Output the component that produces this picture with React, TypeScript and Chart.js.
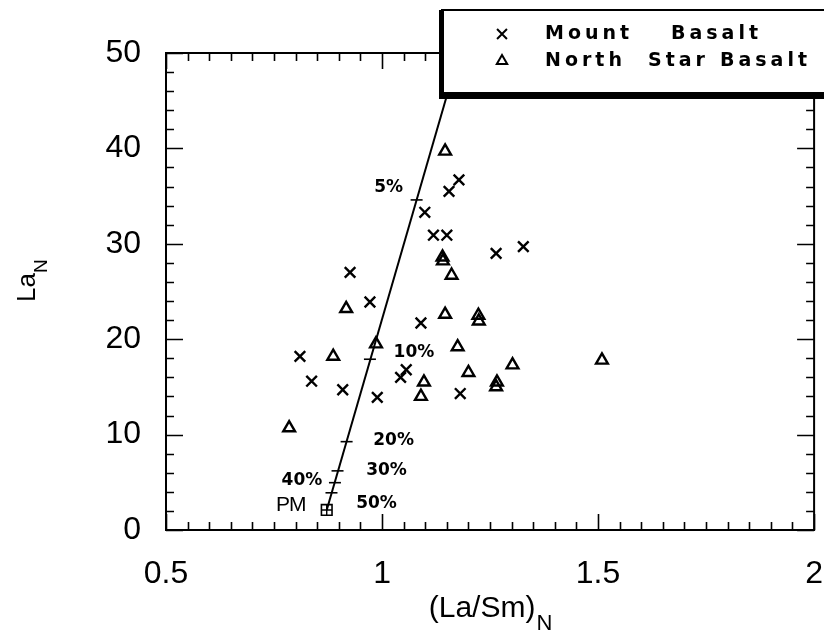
import { useEffect, useRef } from "react";
import { Chart, registerables } from "chart.js";
import { drawPoint } from "chart.js/helpers";

Chart.register(...registerables);

// Mount Basalt samples: (La/Sm)N and LaN
const mountX = [1.178, 1.155, 1.099, 1.119, 1.150, 1.264, 1.327, 0.926, 0.972, 1.090, 0.810, 0.837, 0.909, 0.989, 1.056, 1.043, 1.181];
const mountY = [36.7, 35.5, 33.3, 30.9, 30.9, 29.0, 29.7, 27.0, 23.9, 21.7, 18.2, 15.6, 14.7, 13.9, 16.8, 16.0, 14.3];

// North Star Basalt samples
const northX = [1.146, 1.140, 1.141, 1.161, 0.917, 1.146, 1.223, 1.224, 1.175, 0.986, 0.887, 1.097, 1.090, 1.200, 1.302, 1.266, 1.264, 1.509, 0.785];
const northY = [39.7, 28.6, 28.2, 26.7, 23.2, 22.6, 22.5, 21.9, 19.2, 19.5, 18.2, 15.5, 14.0, 16.5, 17.3, 15.5, 15.0, 17.8, 10.7];

// Primitive mantle composition
const pmLabel = "PM";
const pmX = [0.872];
const pmY = [2.1];

// Partial melting curve from PM, with degree-of-melting marks
const meltCurveX = [0.872, 1.155];
const meltCurveY = [2.1, 46.3];
const meltLabels = ["5%", "10%", "20%", "30%", "40%", "50%"];
const meltX = [1.080, 0.972, 0.918, 0.897, 0.891, 0.883];
const meltY = [34.6, 17.9, 9.26, 6.2, 4.96, 3.9];

// Axes
const xTickValues = [0.5, 1, 1.5, 2];
const xTickLabels = ["0.5", "1", "1.5", "2"];
const yTickValues = [0, 10, 20, 30, 40, 50];
const yTickLabels = ["0", "10", "20", "30", "40", "50"];

const legendEntries = [
  { style: "crossRot", words: ["Mount", "Basalt"] },
  { style: "triangle", words: ["North", "Star", "Basalt"] },
];

const toPoints = (xs: number[], ys: number[]) => xs.map((x, i) => ({ x, y: ys[i] }));

const xMarker = { pointStyle: "crossRot", radius: 7.5, borderWidth: 2.4, rotation: 0 };
const triMarker = { pointStyle: "triangle", radius: 6.8, borderWidth: 2.4, rotation: 0 };

const decorations = {
  id: "decorations",
  afterDatasetsDraw(chart: any) {
    const { ctx, chartArea: a, scales } = chart;
    const xs = scales.x;
    const ys = scales.y;
    ctx.save();
    ctx.strokeStyle = "#000";
    ctx.fillStyle = "#000";

    // frame
    ctx.lineWidth = 2;
    ctx.strokeRect(a.left, a.top, a.right - a.left, a.bottom - a.top);

    // inward ticks on all four sides
    ctx.lineWidth = 1.6;
    ctx.beginPath();
    for (let i = 0; i <= 30; i++) {
      const v = 0.5 + i * 0.05;
      const px = Math.round(xs.getPixelForValue(v)) + 0.5;
      const len = i % 10 === 0 ? 16 : 8;
      ctx.moveTo(px, a.bottom);
      ctx.lineTo(px, a.bottom - len);
      ctx.moveTo(px, a.top);
      ctx.lineTo(px, a.top + len);
    }
    for (let i = 0; i <= 25; i++) {
      const v = i * 2;
      const py = Math.round(ys.getPixelForValue(v)) + 0.5;
      const len = i % 5 === 0 ? 17 : 8;
      ctx.moveTo(a.left, py);
      ctx.lineTo(a.left + len, py);
      ctx.moveTo(a.right, py);
      ctx.lineTo(a.right - len, py);
    }
    ctx.stroke();

    // melting-degree labels
    const offsets = [[-28, -12], [44, -7], [47, -1], [49, 0], [-33, -2], [45, 11]];
    ctx.font = "bold 17px 'DejaVu Sans'";
    ctx.textAlign = "center";
    ctx.textBaseline = "middle";
    meltLabels.forEach((t, i) => {
      const px = xs.getPixelForValue(meltX[i]);
      const py = ys.getPixelForValue(meltY[i]);
      ctx.fillText(t, px + offsets[i][0], py + offsets[i][1]);
    });

    // PM label
    ctx.font = "21px 'Liberation Sans'";
    (ctx as any).letterSpacing = "-1px";
    ctx.fillText(pmLabel, xs.getPixelForValue(pmX[0]) - 36, ys.getPixelForValue(pmY[0]) - 5);
    (ctx as any).letterSpacing = "0px";

    // y-axis title La with subscript N
    ctx.save();
    ctx.translate(35, 302);
    ctx.rotate(-Math.PI / 2);
    ctx.textAlign = "left";
    ctx.textBaseline = "alphabetic";
    ctx.font = "26px 'Liberation Sans'";
    ctx.fillText("La", 0, 0);
    const wLa = ctx.measureText("La").width;
    ctx.font = "19px 'Liberation Sans'";
    ctx.fillText("N", wLa, 12);
    ctx.restore();

    // x-axis title (La/Sm) with subscript N
    ctx.textAlign = "left";
    ctx.textBaseline = "alphabetic";
    ctx.font = "30px 'Liberation Sans'";
    const main = "(La/Sm)";
    const wMain = ctx.measureText(main).width;
    ctx.font = "22px 'Liberation Sans'";
    const wN = ctx.measureText("N").width;
    const cx = (a.left + a.right) / 2;
    const x0 = cx - (wMain + wN) / 2;
    ctx.font = "30px 'Liberation Sans'";
    ctx.fillText(main, x0, 617);
    ctx.font = "22px 'Liberation Sans'";
    ctx.fillText("N", x0 + wMain + 1, 630);
    ctx.restore();
  },
  afterDraw(chart: any) {
    const { ctx } = chart;
    ctx.save();
    // legend box with heavy left/bottom shadow
    ctx.fillStyle = "#fff";
    ctx.fillRect(441, 10, 400, 86);
    ctx.strokeStyle = "#000";
    ctx.lineWidth = 2;
    ctx.strokeRect(442, 10, 400, 84);
    ctx.fillStyle = "#000";
    ctx.fillRect(439, 10, 5, 89);
    ctx.fillRect(439, 92, 400, 7);

    const rowY = [34, 61];
    const wordX = [[545, 671], [545, 648, 720]];
    legendEntries.forEach((e, r) => {
      ctx.strokeStyle = "#000";
      ctx.fillStyle = "rgba(0,0,0,0)";
      const m = e.style === "crossRot" ? { ...xMarker, radius: 7 } : { ...triMarker, radius: 6 };
      drawPoint(ctx, m as any, 502, rowY[r]);
      ctx.fillStyle = "#000";
      ctx.font = "bold 19px 'DejaVu Sans'";
      (ctx as any).letterSpacing = "4px";
      ctx.textAlign = "left";
      ctx.textBaseline = "middle";
      e.words.forEach((w, k) => ctx.fillText(w, wordX[r][k], rowY[r]));
      (ctx as any).letterSpacing = "0px";
    });
    ctx.restore();
  },
};

export default function App() {
  const ref = useRef<HTMLCanvasElement>(null);
  useEffect(() => {
    const chart = new Chart(ref.current!, {
      type: "scatter",
      data: {
        datasets: [
          {
            label: "melting curve",
            data: toPoints(meltCurveX, meltCurveY),
            showLine: true,
            borderColor: "#000",
            borderWidth: 2,
            pointRadius: 0,
          },
          {
            label: "melting marks",
            data: toPoints(meltX, meltY),
            pointStyle: "line",
            pointRadius: 6,
            borderColor: "#000",
            pointBorderWidth: 1.6,
          },
          {
            label: "PM box",
            data: toPoints(pmX, pmY),
            pointStyle: "rect",
            pointRadius: 7.5,
            borderColor: "#000",
            backgroundColor: "rgba(0,0,0,0)",
            pointBorderWidth: 1.6,
          },
          {
            label: "PM cross",
            data: toPoints(pmX, pmY),
            pointStyle: "cross",
            pointRadius: 5.3,
            borderColor: "#000",
            pointBorderWidth: 1.4,
          },
          {
            label: "Mount Basalt",
            data: toPoints(mountX, mountY),
            pointStyle: "crossRot",
            pointRadius: xMarker.radius,
            pointBorderWidth: xMarker.borderWidth,
            borderColor: "#000",
            backgroundColor: "rgba(0,0,0,0)",
          },
          {
            label: "North Star Basalt",
            data: toPoints(northX, northY),
            pointStyle: "triangle",
            pointRadius: triMarker.radius,
            pointBorderWidth: triMarker.borderWidth,
            borderColor: "#000",
            backgroundColor: "rgba(0,0,0,0)",
          },
        ],
      },
      options: {
        responsive: false,
        animation: false,
        events: [],
        layout: { padding: { top: 53, right: 9, left: 0, bottom: 0 } },
        plugins: { legend: { display: false }, tooltip: { enabled: false } },
        scales: {
          x: {
            type: "linear",
            min: 0.5,
            max: 2,
            grid: { display: false, drawTicks: false },
            border: { display: false },
            afterBuildTicks: (s: any) => {
              s.ticks = xTickValues.map((v) => ({ value: v }));
            },
            afterFit: (s: any) => {
              s.height = 103;
              s.paddingLeft = 0;
              s.paddingRight = 9;
            },
            ticks: {
              color: "#000",
              font: { family: "'Liberation Sans'", size: 32 },
              padding: 25,
              maxRotation: 0,
              autoSkip: false,
              callback: (v: any) => xTickLabels[xTickValues.indexOf(Number(v))] ?? "",
            },
          },
          y: {
            type: "linear",
            min: 0,
            max: 50,
            grid: { display: false, drawTicks: false },
            border: { display: false },
            afterBuildTicks: (s: any) => {
              s.ticks = yTickValues.map((v) => ({ value: v }));
            },
            afterFit: (s: any) => {
              s.width = 166;
              s.paddingTop = 0;
              s.paddingBottom = 0;
            },
            ticks: {
              color: "#000",
              font: { family: "'Liberation Sans'", size: 32 },
              padding: 25,
              autoSkip: false,
              callback: (v: any) => yTickLabels[yTickValues.indexOf(Number(v))] ?? "",
            },
          },
        },
      },
      plugins: [decorations],
    } as any);
    return () => chart.destroy();
  }, []);

  return (
    <div style={{ position: "absolute", left: 0, top: 0, width: 824, height: 633, background: "#fff" }}>
      <canvas ref={ref} width={824} height={633} style={{ display: "block", width: 824, height: 633 }} />
    </div>
  );
}
